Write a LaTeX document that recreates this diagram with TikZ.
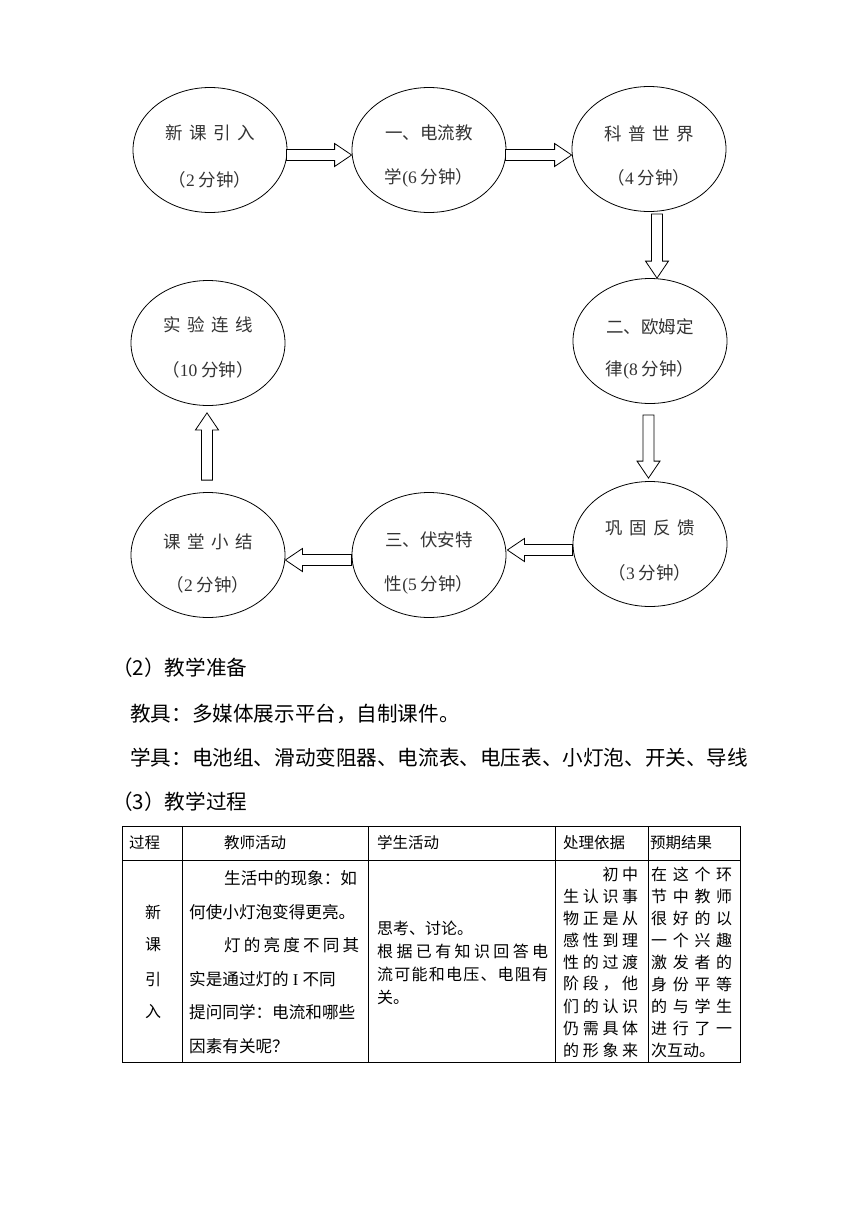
\documentclass[tikz,border=0pt]{standalone}
\usepackage{fontspec}
\setmainfont{Noto Sans CJK SC}
\newfontfamily\lat{Liberation Serif}
\usetikzlibrary{shapes.geometric,calc}
\newcommand\gp{\hspace{6.5pt}}
\newcommand\hf{\hfill}
\newcommand\barrow[2]{%
\draw[barr] let \p1=(#1),\p2=(#2),\n1={atan2(\y2-\y1,\x2-\x1)},\n2={veclen(\x2-\x1,\y2-\y1)} in
 ($(\p1)+(\n1+90:5.5pt)$) -- ($(\p1)+(\n1:{\n2-17pt})+(\n1+90:5.5pt)$) -- ($(\p1)+(\n1:{\n2-17pt})+(\n1+90:11.5pt)$) -- (\p2)
 -- ($(\p1)+(\n1:{\n2-17pt})+(\n1-90:11.5pt)$) -- ($(\p1)+(\n1:{\n2-17pt})+(\n1-90:5.5pt)$) -- ($(\p1)+(\n1-90:5.5pt)$) -- cycle;}
\newcommand\sline[5]{\node[cell] (#1) at (#2,#3) {\makebox[#4pt][s]{#5}};}
\tikzset{
 stage/.style={draw, ellipse, minimum width=154pt, minimum height=125pt, inner sep=0pt, line width=0.8pt},
 etxt/.style={font=\fontsize{17.5}{20}\selectfont, text=black!80, inner sep=0pt},
 barr/.style={draw, line width=0.8pt, fill=white},
 body/.style={font=\fontsize{20.6}{24}\selectfont, anchor=west, inner sep=0pt},
 tbl/.style={line width=0.8pt},
 cell/.style={font=\fontsize{16}{19}\selectfont, anchor=west, inner sep=0pt},
 hcell/.style={font=\fontsize{15.5}{19}\selectfont, anchor=west, inner sep=0pt},
}
\begin{document}
\begin{tikzpicture}[x=1pt,y=-1pt]
\fill[white] (0,0) rectangle (860,1216);
\useasboundingbox (0,0) rectangle (860,1216);

% ellipses
\node[stage] (e1) at (210,150) {};
\node[stage] (e2) at (429,150) {};
\node[stage] (e3) at (649,149) {};
\node[stage] (e4) at (650,341) {};
\node[stage] (e5) at (650,544) {};
\node[stage] (e6) at (429,555) {};
\node[stage] (e7) at (208,555) {};
\node[stage] (e8) at (208,343) {};

\node[etxt] (e1a) at ($(e1)+(0,-17)$) {新\gp 课\gp 引\gp 入};
\node[etxt] (e1b) at ($(e1)+(0,30)$) {（{\lat 2} 分钟）};
\node[etxt] (e2a) at ($(e2)+(0,-17)$) {一、电流教};
\node[etxt] (e2b) at ($(e2)+(0,28)$) {学{\lat (6} 分钟）};
\node[etxt] (e3a) at ($(e3)+(0,-15)$) {科\gp 普\gp 世\gp 界};
\node[etxt] (e3b) at ($(e3)+(0,29)$) {（{\lat 4} 分钟）};
\node[etxt] (e4a) at ($(e4)+(0,-14)$) {二、欧姆定};
\node[etxt] (e4b) at ($(e4)+(0,29)$) {律{\lat (8} 分钟）};
\node[etxt] (e5a) at ($(e5)+(0,-16)$) {巩\gp 固\gp 反\gp 馈};
\node[etxt] (e5b) at ($(e5)+(0,29)$) {（{\lat 3} 分钟）};
\node[etxt] (e6a) at ($(e6)+(0,-15)$) {三、伏安特};
\node[etxt] (e6b) at ($(e6)+(0,30)$) {性{\lat (5} 分钟）};
\node[etxt] (e7a) at ($(e7)+(0,-13)$) {课\gp 堂\gp 小\gp 结};
\node[etxt] (e7b) at ($(e7)+(0,30)$) {（{\lat 2} 分钟）};
\node[etxt] (e8a) at ($(e8)+(0,-18)$) {实\gp 验\gp 连\gp 线};
\node[etxt] (e8b) at ($(e8)+(0,27)$) {（{\lat 10} 分钟）};

% arrows
\coordinate (a1s) at ($(e1.east)+(-1,5)$);
\coordinate (a1e) at ($(e2.west)+(0,5)$);
\coordinate (a2s) at ($(e2.east)+(-1,5)$);
\coordinate (a2e) at ($(e3.west)+(0,6)$);
\coordinate (a3s) at ($(e3.south)+(8,2)$);
\coordinate (a3e) at ($(e4.north)+(7,0)$);
\coordinate (a4s) at ($(e4.south)+(-1.5,11)$);
\coordinate (a4e) at ($(e5.north)+(-1.5,-3)$);
\coordinate (a5s) at ($(e5.west)+(0,6)$);
\coordinate (a5e) at ($(e6.east)+(1,-5)$);
\coordinate (a6s) at ($(e6.west)+(0,5)$);
\coordinate (a6e) at ($(e7.east)+(0,5)$);
\coordinate (a7s) at ($(e7.north)+(-1,-12)$);
\coordinate (a7e) at ($(e8.south)+(-1,7)$);
\barrow{a1s}{a1e}
\barrow{a2s}{a2e}
\barrow{a3s}{a3e}
\barrow{a4s}{a4e}
\barrow{a5s}{a5e}
\barrow{a6s}{a6e}
\barrow{a7s}{a7e}

% body text
\node[body] (t1) at (112,668) {（2）教学准备};
\node[body] (t2) at (130,714) {教具：多媒体展示平台，自制课件。};
\node[body] (t3) at (130,758) {学具：电池组、滑动变阻器、电流表、电压表、小灯泡、开关、导线};
\node[body] (t4) at (112,802) {（3）教学过程};

% table
\draw[tbl] (122,826) rectangle (740,1062);
\draw[tbl] (122,860) -- (740,860);
\foreach \cx in {182,368,555,648} \draw[tbl] (\cx,826) -- (\cx,1062);

\node[hcell] (h1) at (129,843) {过程};
\node[hcell] (h2) at (224,843) {教师活动};
\node[hcell] (h3) at (377,843) {学生活动};
\node[hcell] (h4) at (563,843) {处理依据};
\node[hcell] (h5) at (650,843) {预期结果};

\node[cell,anchor=center] (c1) at (153,912) {新};
\node[cell,anchor=center] (c2) at (153,945) {课};
\node[cell,anchor=center] (c3) at (153,979) {引};
\node[cell,anchor=center] (c4) at (153,1012) {入};

% teacher column
\node[cell,font=\fontsize{16.6}{19}\selectfont] (ta1) at (224,878) {生活中的现象：如};
\node[cell,font=\fontsize{16.6}{19}\selectfont] (ta2) at (189,912) {何使小灯泡变得更亮。};
\node[cell,font=\fontsize{16.6}{19}\selectfont] (ta3) at (224,945) {\makebox[135pt][s]{灯\hf 的\hf 亮\hf 度\hf 不\hf 同\hf 其}};
\node[cell,font=\fontsize{16.6}{19}\selectfont] (ta4) at (189,979) {实是通过灯的{\lat\ I\ }不同};
\node[cell,font=\fontsize{16.6}{19}\selectfont] (ta5) at (189,1012) {提问同学：电流和哪些};
\node[cell,font=\fontsize{16.6}{19}\selectfont] (ta6) at (189,1046) {因素有关呢？};

% student column
\node[cell] (sa1) at (377,928) {思考、讨论。};
\sline{sa2}{377}{951}{171}{根\hf 据\hf 已\hf 有\hf 知\hf 识\hf 回\hf 答\hf 电}
\sline{sa3}{377}{974}{171}{流\hf 可\hf 能\hf 和\hf 电\hf 压\hf 、\hf 电\hf 阻\hf 有}
\node[cell] (sa4) at (377,997) {关。};

% basis column
\sline{pa1}{563}{874}{75}{\phantom{初}\hf\phantom{初}\hf 初\hf 中}
\sline{pa2}{563}{896}{75}{生\hf 认\hf 识\hf 事}
\sline{pa3}{563}{918}{75}{物\hf 正\hf 是\hf 从}
\sline{pa4}{563}{940}{75}{感\hf 性\hf 到\hf 理}
\sline{pa5}{563}{962}{75}{性\hf 的\hf 过\hf 渡}
\sline{pa6}{563}{984}{75}{阶\hf 段\hf ，\hf 他}
\sline{pa7}{563}{1006}{75}{们\hf 的\hf 认\hf 识}
\sline{pa8}{563}{1028}{75}{仍\hf 需\hf 具\hf 体}
\sline{pa9}{563}{1050}{75}{的\hf 形\hf 象\hf 来}

% result column
\sline{ra1}{651}{874}{81}{在\hf 这\hf 个\hf 环}
\sline{ra2}{651}{896}{81}{节\hf 中\hf 教\hf 师}
\sline{ra3}{651}{918}{81}{很\hf 好\hf 的\hf 以}
\sline{ra4}{651}{940}{81}{一\hf 个\hf 兴\hf 趣}
\sline{ra5}{651}{962}{81}{激\hf 发\hf 者\hf 的}
\sline{ra6}{651}{984}{81}{身\hf 份\hf 平\hf 等}
\sline{ra7}{651}{1006}{81}{的\hf 与\hf 学\hf 生}
\sline{ra8}{651}{1028}{81}{进\hf 行\hf 了\hf 一}
\node[cell] (ra9) at (651,1050) {次互动。};
\end{tikzpicture}
\end{document}
